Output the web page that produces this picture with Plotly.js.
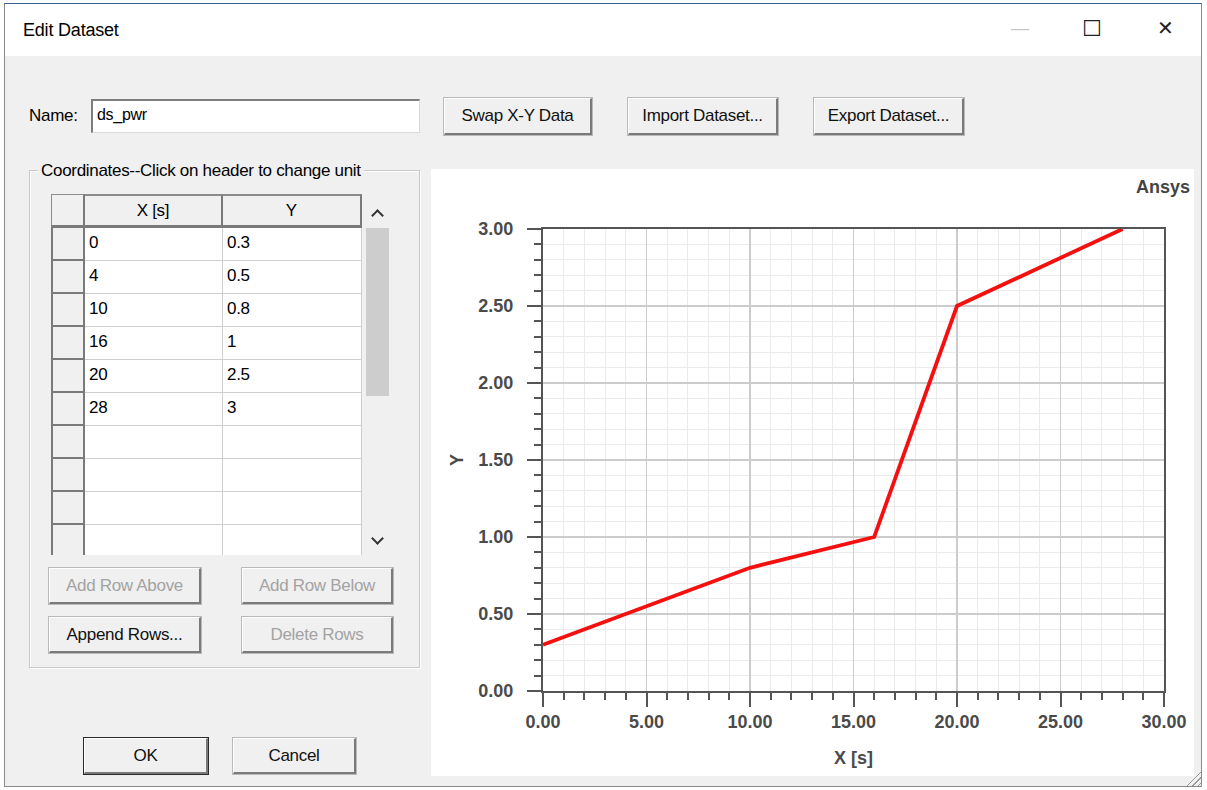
<!DOCTYPE html>
<html>
<head>
<meta charset="utf-8">
<script src="https://cdn.plot.ly/plotly-3.0.1.min.js"></script>
<style>
  html, body { margin:0; padding:0; background:#ffffff; }
  body { width:1207px; height:790px; position:relative; overflow:hidden; font-family:"Liberation Sans", Arial, sans-serif; color:#000; }
  .abs { position:absolute; box-sizing:border-box; }
  #dlg { left:4px; top:3px; width:1198px; height:784px; background:#f0f0f0; border:1px solid #8a8a8a; border-top:1px solid #3a5f8f; }
  #titlebar { left:0; top:0; width:1196px; height:52px; background:#ffffff; }
  #title { left:18px; top:16px; font-size:18px; letter-spacing:-0.2px; }
  .winbtn { font-family:"DejaVu Sans", sans-serif; color:#222; font-size:20px; }
  .btn { background:#f0f0f0; border-top:1px solid #ffffff; border-left:1px solid #ffffff; border-right:2px solid #7a7a7a; border-bottom:2px solid #7a7a7a; outline:1px solid #b9b9b9; font-size:17px; letter-spacing:-0.3px; display:flex; align-items:center; justify-content:center; color:#111; }
  .btn.dis { color:#a3a3a3; }
  #namebox { left:86px; top:95px; width:329px; height:34px; background:#fff; border-top:2px solid #7d7d7d; border-left:2px solid #7d7d7d; border-right:1px solid #dadada; border-bottom:1px solid #dadada; font-size:16px; padding:5px 0 0 4px; letter-spacing:-0.3px; }
  #group { left:24px; top:166px; width:391px; height:498px; border:1px solid #c9c9c9; box-shadow: inset 1px 1px 0 #fff, 1px 1px 0 #fff; }
  #grouplbl { left:33px; top:157px; background:#f0f0f0; padding:0 3px; font-size:17px; letter-spacing:-0.3px; }
  .cell { font-size:17px; padding:5px 0 0 4px; letter-spacing:-0.3px; }
  #chart { left:426px; top:165px; width:763px; height:607px; background:#fff; }
  .chev { width:9px; height:9px; border-left:2px solid #333; border-top:2px solid #333; }
</style>
</head>
<body>
<div id="dlg" class="abs">
  <div id="titlebar" class="abs"></div>
  <div id="title" class="abs">Edit Dataset</div>
  <div class="abs winbtn" style="left:1005px;top:12px;color:#c8c8c8;">—</div>
  <div class="abs winbtn" style="left:1077px;top:12px;font-size:22px;">☐</div>
  <div class="abs winbtn" style="left:1152px;top:12px;">✕</div>

  <div class="abs" style="left:24px;top:102px;font-size:17px;letter-spacing:-0.3px;">Name:</div>
  <div id="namebox" class="abs">ds_pwr</div>

  <div class="abs btn" style="left:439px;top:94px;width:148px;height:37px;">Swap X-Y Data</div>
  <div class="abs btn" style="left:623px;top:94px;width:150px;height:37px;">Import Dataset...</div>
  <div class="abs btn" style="left:809px;top:94px;width:150px;height:37px;">Export Dataset...</div>

  <div id="group" class="abs"></div>
  <div id="grouplbl" class="abs">Coordinates--Click on header to change unit</div>

  <div id="table" class="abs" style="left:46px;top:190px;width:341px;height:361px;"></div>

  <div class="abs btn dis" style="left:44px;top:564px;width:152px;height:36px;">Add Row Above</div>
  <div class="abs btn dis" style="left:237px;top:564px;width:151px;height:36px;">Add Row Below</div>
  <div class="abs btn" style="left:44px;top:613px;width:152px;height:36px;">Append Rows...</div>
  <div class="abs btn dis" style="left:237px;top:613px;width:151px;height:36px;">Delete Rows</div>

  <div class="abs btn" style="left:79px;top:734px;width:124px;height:36px;outline:1px solid #2a2a2a;">OK</div>
  <div class="abs btn" style="left:228px;top:734px;width:123px;height:36px;">Cancel</div>

  <div id="chart" class="abs"></div>
  <div class="abs" style="left:1178px;top:764px;width:18px;height:18px;background:repeating-linear-gradient(135deg, transparent 0 3px, #9a9a9a 3px 4px);clip-path:polygon(100% 0,100% 100%,0 100%);"></div>
</div>

<script>
// ---- data ----
var xValues = [0, 4, 10, 16, 20, 28];
var yValues = [0.3, 0.5, 0.8, 1, 2.5, 3];
var xHeader = "X [s]";
var yHeader = "Y";
var emptyRows = 4;

// ---- table (built from the same arrays) ----
(function buildTable(){
  var t = document.getElementById('table');
  var rowH = 33, headH = 34;
  var html = '';
  html += '<div class="abs" style="left:0;top:0;width:34px;height:'+headH+'px;background:#f0f0f0;border:1px solid #8c8c8c;border-right:2px solid #7a7a7a;border-bottom:3px solid #7a7a7a;"></div>';
  html += '<div class="abs" style="left:34px;top:0;width:138px;height:'+headH+'px;background:#f0f0f0;border-top:2px solid #8c8c8c;border-right:2px solid #7a7a7a;border-bottom:3px solid #7a7a7a;text-align:center;font-size:17px;letter-spacing:-0.3px;padding-top:5px;">'+xHeader+'</div>';
  html += '<div class="abs" style="left:172px;top:0;width:139px;height:'+headH+'px;background:#f0f0f0;border-top:2px solid #8c8c8c;border-right:2px solid #7a7a7a;border-bottom:3px solid #7a7a7a;text-align:center;font-size:17px;padding-top:5px;">'+yHeader+'</div>';
  var n = xValues.length + emptyRows;
  for (var i=0;i<n;i++){
    var top = headH + i*rowH;
    var h = (i===n-1) ? (361-top) : rowH;
    var xv = i < xValues.length ? xValues[i] : '';
    var yv = i < yValues.length ? yValues[i] : '';
    html += '<div class="abs" style="left:0;top:'+top+'px;width:34px;height:'+h+'px;background:#f0f0f0;border-left:2px solid #7a7a7a;border-right:2px solid #7a7a7a;border-bottom:'+(i===n-1?0:2)+'px solid #7a7a7a;"></div>';
    html += '<div class="abs cell" style="left:34px;top:'+top+'px;width:138px;height:'+h+'px;background:#fff;border-right:1px solid #cfcfcf;border-bottom:'+(i===n-1?0:1)+'px solid #cfcfcf;">'+xv+'</div>';
    html += '<div class="abs cell" style="left:172px;top:'+top+'px;width:139px;height:'+h+'px;background:#fff;border-right:1px solid #cfcfcf;border-bottom:'+(i===n-1?0:1)+'px solid #cfcfcf;">'+yv+'</div>';
  }
  html += '<div class="abs" style="left:311px;top:0;width:30px;height:361px;background:#f0f0f0;"></div>';
  html += '<div class="abs chev" style="left:322px;top:17px;transform:rotate(45deg);"></div>';
  html += '<div class="abs chev" style="left:322px;top:340px;transform:rotate(225deg);"></div>';
  html += '<div class="abs" style="left:315px;top:34px;width:23px;height:168px;background:#cdcdcd;"></div>';
  t.innerHTML = html;
})();

// ---- chart ----
var fontFam = "Liberation Sans, Arial, sans-serif";
var tickFont = {family:fontFam, size:18, color:"#4a4a4a", weight:"bold"};
var trace = {
  x: xValues, y: yValues, type:'scatter', mode:'lines',
  line:{color:'#f51010', width:3.8}, hoverinfo:'skip'
};
var axisCommon = {
  showline:true, linecolor:'#555555', linewidth:2, mirror:true,
  ticks:'outside', ticklen:14, tickwidth:2, tickcolor:'#555555',
  showgrid:true, gridcolor:'#cccccc', gridwidth:1.5,
  zeroline:false, tickformat:'.2f', tickfont:tickFont
};
var layout = {
  width:763, height:607,
  margin:{l:112, r:30, t:60, b:85},
  paper_bgcolor:'#ffffff', plot_bgcolor:'#ffffff',
  showlegend:false,
  xaxis: Object.assign({}, axisCommon, {
    range:[0,30], dtick:5, tick0:0, ticklabelstandoff:-1,
    minor:{dtick:1, showgrid:true, gridcolor:'#ebebeb', gridwidth:1, ticks:'outside', ticklen:7, tickwidth:2, tickcolor:'#555555'},
    title:{text:'X [s]', font:{family:fontFam, size:18, color:'#4a4a4a', weight:'bold'}, standoff:21}
  }),
  yaxis: Object.assign({}, axisCommon, {
    range:[0,3], dtick:0.5, tick0:0, ticklabelstandoff:10,
    minor:{dtick:0.1, showgrid:true, gridcolor:'#ebebeb', gridwidth:1, ticks:'outside', ticklen:7, tickwidth:2, tickcolor:'#555555'},
    title:{text:'Y', font:{family:fontFam, size:18, color:'#4a4a4a', weight:'bold'}, standoff:10}
  }),
  annotations:[{
    text:'Ansys', xref:'paper', yref:'paper', x:1.045, y:1.09, xanchor:'right', yanchor:'middle',
    showarrow:false, font:{family:fontFam, size:18, color:'#444444', weight:'bold'}
  }]
};
Plotly.newPlot('chart', [trace], layout, {displayModeBar:false, staticPlot:true});
</script>
</body>
</html>
